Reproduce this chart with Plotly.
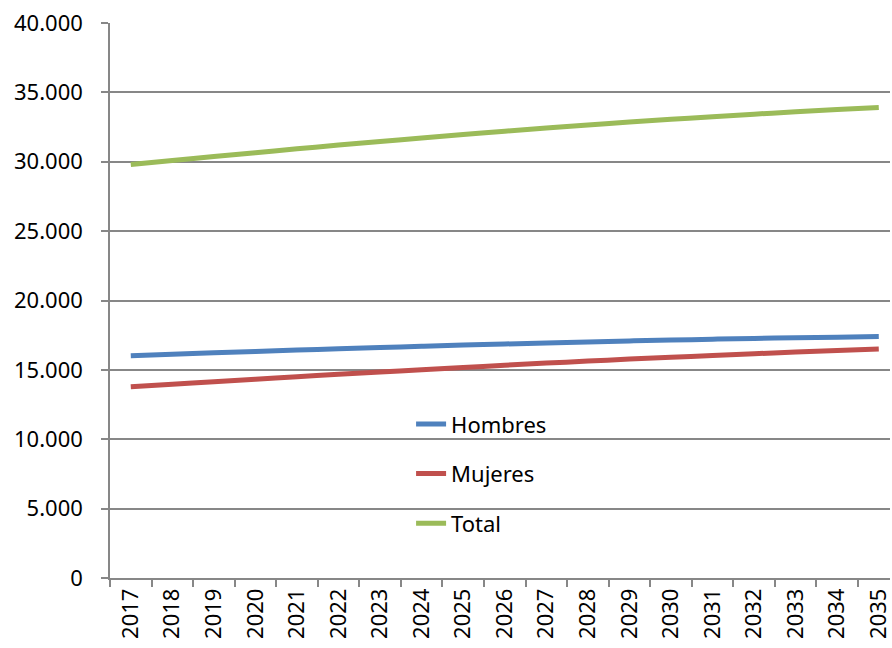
import plotly.graph_objects as go

# Population projection by sex, 2017-2035
years = [str(y) for y in range(2017, 2036)]
hombres = [16020, 16125, 16228, 16328, 16425, 16520, 16612, 16700, 16785, 16866,
           16943, 17016, 17085, 17150, 17210, 17265, 17315, 17360, 17400]
mujeres = [13780, 13965, 14147, 14327, 14505, 14680, 14848, 15015, 15175, 15334,
           15487, 15634, 15775, 15910, 16040, 16165, 16285, 16400, 16510]
total = [29800, 30090, 30375, 30655, 30930, 31200, 31460, 31715, 31960, 32200,
         32430, 32650, 32860, 33060, 33250, 33430, 33600, 33760, 33910]

series = [
    ("Hombres", hombres, "#4F81BD"),
    ("Mujeres", mujeres, "#C0504D"),
    ("Total", total, "#9BBB59"),
]

FONT = "Noto Sans"
GRID = "#878787"

fig = go.Figure()
for i, (name, vals, color) in enumerate(series):
    fig.add_trace(go.Scatter(
        x=years, y=vals, name=name, mode="lines",
        line=dict(color=color, width=5, shape="spline"),
        legendgroup=f"g{i}",
    ))

fig.update_layout(
    width=892, height=648,
    margin=dict(l=110, r=0, t=23, b=70),
    paper_bgcolor="white", plot_bgcolor="white",
    separators=",.",
    font=dict(family=FONT, size=21, color="black"),
    showlegend=True,
    legend=dict(
        x=0.386, y=0.315, xanchor="left", yanchor="top",
        bgcolor="rgba(0,0,0,0)", borderwidth=0,
        traceorder="grouped", tracegroupgap=18,
        font=dict(family=FONT, size=22, color="black"),
    ),
)

fig.update_xaxes(
    type="category", range=[-0.5, 18.27],
    tickangle=-90, tickson="boundaries",
    ticks="outside", ticklen=7, tickcolor=GRID, tickwidth=1.5,
    showline=True, linecolor=GRID, linewidth=1.5,
    showgrid=False, zeroline=False,
    tickfont=dict(family=FONT, size=22, color="black"),
)
fig.update_yaxes(
    range=[0, 40000], dtick=5000, tickformat=",d",
    ticks="outside", ticklen=7, tickcolor=GRID, tickwidth=1.5,
    showline=True, linecolor=GRID, linewidth=1.5,
    showgrid=True, gridcolor=GRID, gridwidth=1.5,
    zeroline=False, ticklabelstandoff=14,
    tickfont=dict(family=FONT, size=22, color="black"),
)

fig.write_html("out.html")
